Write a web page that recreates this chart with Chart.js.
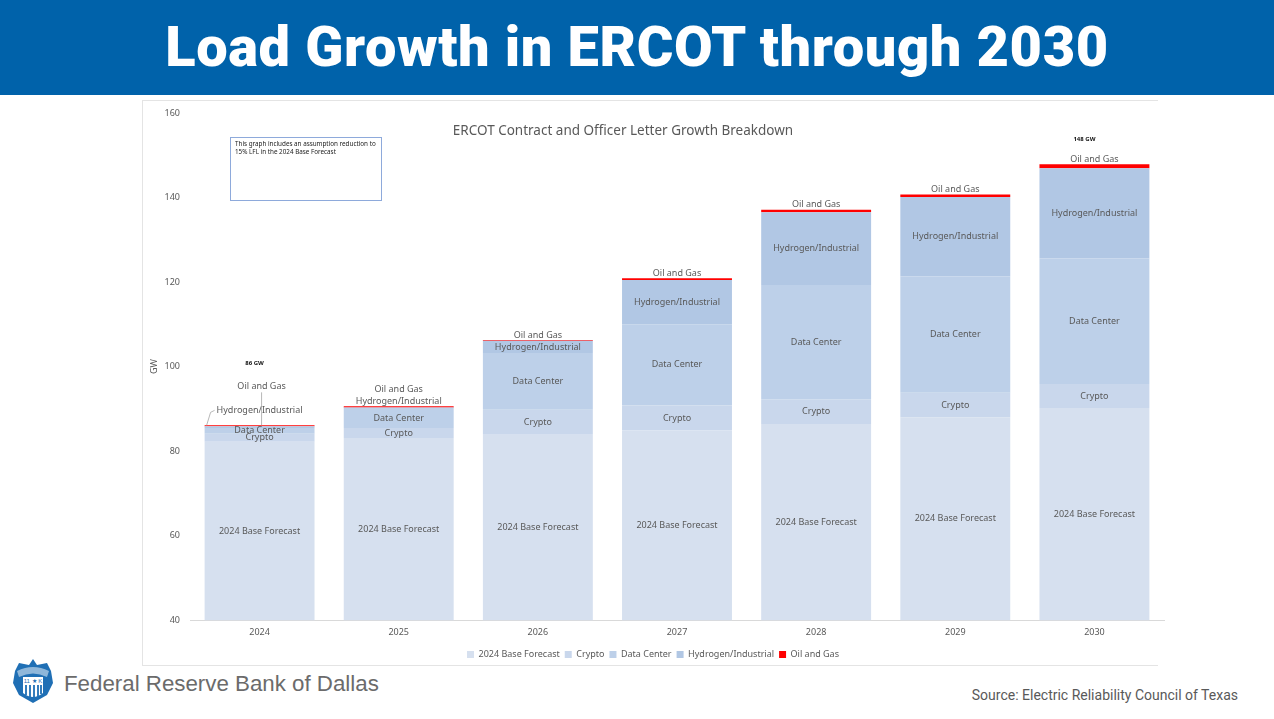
<!DOCTYPE html>
<html lang="en">
<head>
  <meta charset="UTF-8">
  <script src="https://cdn.jsdelivr.net/npm/chart.js"></script>
  <title>Load Growth in ERCOT through 2030</title>
  <style>
    body{margin:0; width:1274px; height:719px; background:#fff; position:relative; overflow:hidden; font-family:"Liberation Sans", Arial, sans-serif;}
    #banner{position:absolute; left:0; top:0; width:1274px; height:95px; background:#0062AA;}
    #banner h1{margin:0; color:#fff; font-family:Roboto, sans-serif; font-weight:900; font-size:56px; line-height:95px; text-align:center; letter-spacing:0.6px;}
    #frame{position:absolute; left:142px; top:100px; width:1016px; height:566px; border:1px solid #e4e4e4; border-right:none; box-sizing:border-box;}
    #wrap{position:absolute; left:142px; top:100px; width:1030px; height:569px;}
    #chartTitle{position:absolute; left:142px; width:962px; top:121px; text-align:center; color:#595959; font-family:"Noto Sans", sans-serif; font-size:13.5px;}
    #note{position:absolute; left:230px; top:137px; width:152px; height:64px; border:1px solid #8eaadb; box-sizing:border-box; padding:2px 4px; font-family:"Noto Sans", sans-serif; font-size:6.3px; line-height:8px; color:#222;}
    #fed{position:absolute; left:64px; top:671px; font-size:22.3px; color:#6b6b6b;}
    #logo{position:absolute; left:11px; top:657px;}
    #source{position:absolute; right:36px; top:687px; font-family:Roboto, sans-serif; font-size:14px; color:#595959;}
  </style>
</head>
<body>
  <div id="banner"><h1>Load Growth in ERCOT through 2030</h1></div>
  <div id="frame"></div>
  <div id="wrap"><canvas id="myChart"></canvas></div>
  <div id="chartTitle">ERCOT Contract and Officer Letter Growth Breakdown</div>
  <div id="note">This graph includes an assumption reduction to 15% LFL in the 2024 Base Forecast</div>
  <svg id="logo" width="44" height="50" viewBox="0 0 44 50">
    <path d="M22 2 L26 8 L36 6 L40 14 L42 26 L36 38 L22 46 L8 38 L2 26 L4 14 L8 6 L18 8 Z" fill="#1f6fb5"/>
    <path d="M6 14 Q22 6 38 14 L36 20 Q22 13 8 20 Z" fill="#fff" opacity="0.5"/>
    <rect x="12" y="20" width="20" height="7" fill="#fff"/>
    <path d="M12 27 L32 27 L32 36 Q22 44 12 36 Z" fill="#fff"/>
    <path d="M15 28 V38 M19 28 V41 M23 28 V41 M27 28 V40 M30 28 V37" stroke="#1f6fb5" stroke-width="1.8"/>
    <text x="22" y="26" font-size="6" text-anchor="middle" fill="#1f6fb5" font-family="Liberation Sans">11 ★ K</text>
  </svg>
  <div id="fed">Federal Reserve Bank of Dallas</div>
  <div id="source">Source: Electric Reliability Council of Texas</div>

  <script>
    // data (GW)
    const years = ['2024', '2025', '2026', '2027', '2028', '2029', '2030'];
    const baseForecast = [82.2, 83.1, 83.9, 84.9, 86.4, 88.0, 90.2];
    const crypto = [1.9, 2.4, 5.9, 5.9, 5.9, 5.8, 5.7];
    const dataCenter = [1.4, 4.7, 13.4, 19.2, 27.0, 27.5, 29.7];
    const hydrogen = [0.4, 0.1, 2.9, 10.5, 17.2, 18.8, 21.3];
    const oilGas = [0.2, 0.3, 0.2, 0.4, 0.6, 0.6, 1.0];
    const yTicks = [40, 60, 80, 100, 120, 140, 160];
    const totalNotes = [0, 6]; // bars with a "xx GW" note

    const seriesNames = ['2024 Base Forecast', 'Crypto', 'Data Center', 'Hydrogen/Industrial', 'Oil and Gas'];
    const seriesData = [baseForecast, crypto, dataCenter, hydrogen, oilGas];
    const seriesColors = ['#d6e0ef', '#c9d7ec', '#bdd0e9', '#b1c7e4', '#ff0000'];

    // labels that sit above the bar in 2024 get their own spots
    const specialLabels = {
      '0-3': {dy: -15, dx: 0, leader: 'slant'},
      '0-4': {dy: -39, dx: 2, leader: 'down'}
    };

    const segLabels = {
      id: 'segLabels',
      afterDatasetsDraw(chart) {
        const ctx = chart.ctx;
        const bottom = chart.chartArea.bottom;
        ctx.save();
        ctx.font = '9px "Noto Sans", sans-serif';
        ctx.fillStyle = '#595959';
        ctx.textAlign = 'center';
        ctx.textBaseline = 'middle';
        for (let i = 0; i < years.length; i++) {
          let above = 0;
          let barTop = Infinity;
          chart.data.datasets.forEach((ds, d) => {
            const el = chart.getDatasetMeta(d).data[i];
            barTop = Math.min(barTop, el.y);
          });
          chart.data.datasets.forEach((ds, d) => {
            const el = chart.getDatasetMeta(d).data[i];
            const base = Math.min(el.base, bottom);
            const h = Math.abs(base - el.y);
            const key = i + '-' + d;
            if (specialLabels[key]) {
              const s = specialLabels[key];
              const tx = el.x + s.dx, ty = barTop + s.dy;
              ctx.fillText(ds.label, tx, ty);
              ctx.strokeStyle = '#a6a6a6';
              ctx.lineWidth = 0.8;
              ctx.beginPath();
              if (s.leader === 'slant') {
                const w = ctx.measureText(ds.label).width;
                ctx.moveTo(tx - w / 2 - 2, ty);
                ctx.lineTo(tx - w / 2 - 6, ty + 2);
                ctx.lineTo(el.x - el.width / 2 + 2, barTop);
              } else {
                ctx.moveTo(tx, ty + 6);
                ctx.lineTo(tx, barTop);
              }
              ctx.stroke();
            } else if (h >= 5) {
              ctx.fillText(ds.label, el.x, (el.y + base) / 2);
            } else {
              ctx.fillText(ds.label, el.x, barTop - 5 - above * 12);
              above++;
            }
          });
        }
        // total notes
        ctx.font = 'bold 6px "Noto Sans", sans-serif';
        ctx.fillStyle = '#111';
        totalNotes.forEach((i, n) => {
          const total = seriesData.reduce((s, arr) => s + arr[i], 0);
          const el = chart.getDatasetMeta(0).data[i];
          const yTop = chart.scales.y.getPixelForValue(total);
          const dy = n === 0 ? -62 : -25;
          ctx.fillText(Math.round(total) + ' GW', el.x - (n === 0 ? 5 : 10), yTop + dy);
        });
        ctx.restore();
      }
    };

    new Chart(document.getElementById('myChart'), {
      type: 'bar',
      data: {
        labels: years,
        datasets: seriesNames.map((name, k) => ({
          label: name,
          data: seriesData[k],
          backgroundColor: seriesColors[k],
          borderWidth: 0,
          categoryPercentage: 1.0,
          barPercentage: 0.79
        }))
      },
      options: {
        responsive: true,
        maintainAspectRatio: false,
        animation: false,
        layout: {padding: {top: 13, right: 8, left: 0, bottom: 0}},
        plugins: {
          legend: {
            position: 'bottom',
            labels: {
              boxWidth: 7, boxHeight: 7, padding: 5,
              color: '#595959',
              font: {family: '"Noto Sans", sans-serif', size: 9}
            }
          },
          tooltip: {enabled: false}
        },
        scales: {
          x: {
            stacked: true,
            grid: {display: false, drawTicks: false},
            border: {color: '#d9d9d9'},
            ticks: {color: '#595959', font: {family: '"Noto Sans", sans-serif', size: 9}, padding: 7}
          },
          y: {
            stacked: true,
            min: 40, max: 160,
            afterBuildTicks: s => { s.ticks = yTicks.map(v => ({value: v})); },
            afterFit: s => { s.width = 48; },
            grid: {display: false},
            border: {display: false},
            title: {display: true, text: 'GW', color: '#595959', font: {family: '"Noto Sans", sans-serif', size: 9}, padding: {top: 7, bottom: 0}},
            ticks: {color: '#595959', font: {family: '"Noto Sans", sans-serif', size: 9}, padding: 2}
          }
        }
      },
      plugins: [segLabels]
    });
  </script>
</body>
</html>
